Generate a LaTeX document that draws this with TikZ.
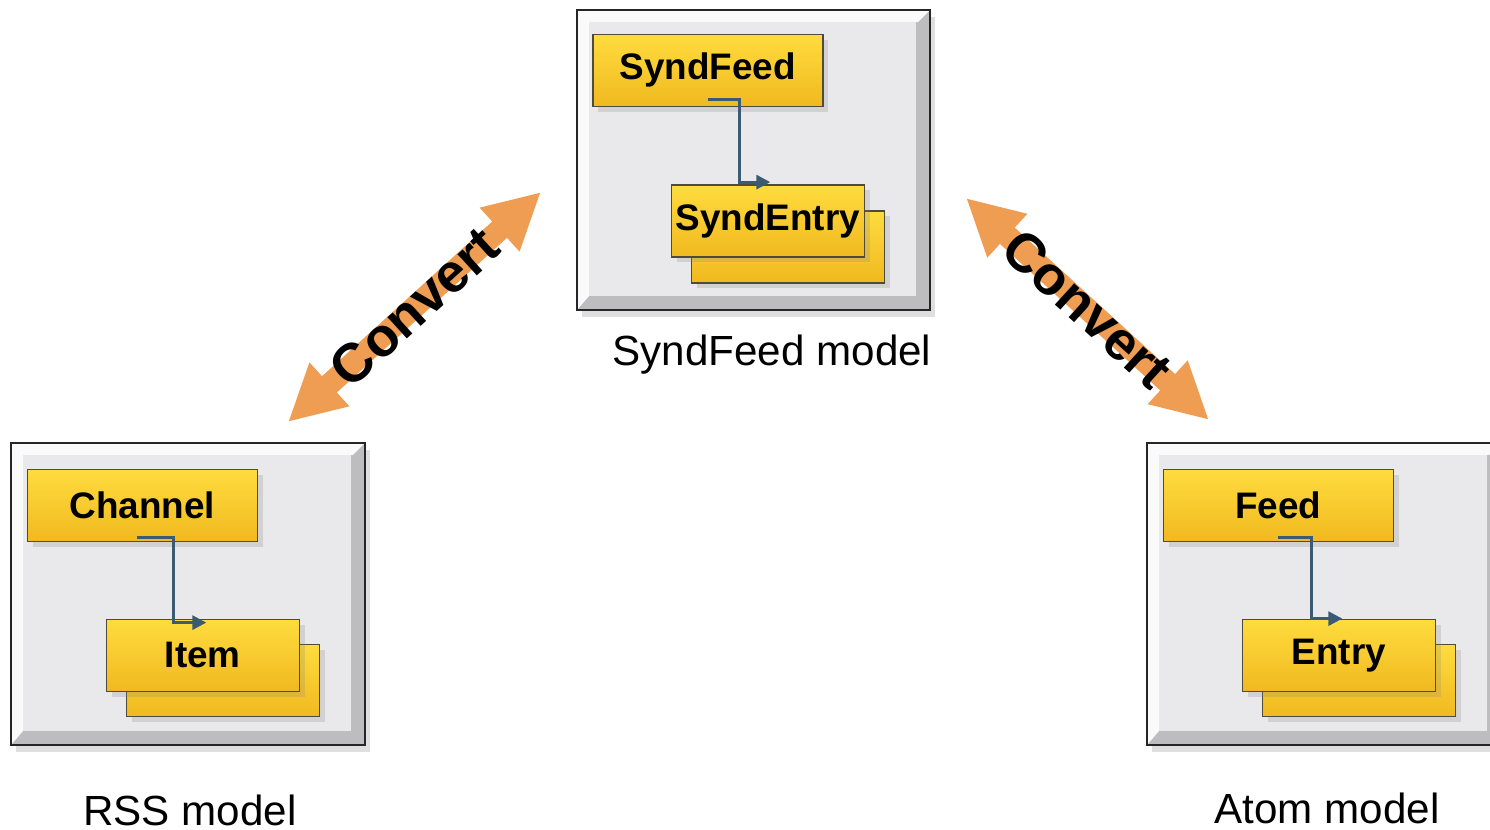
\documentclass[tikz,border=0pt]{standalone}
\usepackage{fontspec}
\setmainfont{Liberation Sans}
\usetikzlibrary{arrows.meta,shadows}
\definecolor{panelgrey}{HTML}{E9E9EB}
\definecolor{panelshade}{HTML}{BDBDC0}
\definecolor{goldtop}{HTML}{FFDC3E}
\definecolor{goldmid}{HTML}{FCCA2A}
\definecolor{goldbot}{HTML}{F0B920}
\definecolor{linkblue}{HTML}{3B5B72}
\definecolor{convorange}{HTML}{EE9D52}

\tikzset{
	panel/.style={draw=black!85,line width=0.8pt,fill=panelshade,minimum width=7.08cm,minimum height=6.04cm,inner sep=0pt,
		drop shadow={opacity=0.25,shadow xshift=3pt,shadow yshift=-4pt},
		path picture={
			\fill[white!96!gray] (path picture bounding box.north west) -- (path picture bounding box.north east) -- ([shift={(-12,12)}]path picture bounding box.north east) -- ([shift={(12,12)}]path picture bounding box.north west) -- ([shift={(12,-14)}]path picture bounding box.south west) -- (path picture bounding box.south west) -- cycle;
			\fill[panelgrey] ([shift={(12,12)}]path picture bounding box.north west) rectangle ([shift={(-14,-14)}]path picture bounding box.south east);}},
	goldbox/.style={draw=black!80!yellow,line width=0.8pt,top color=goldtop,middle color=goldmid,bottom color=goldbot,inner sep=0pt,minimum height=1.44cm,
		drop shadow={opacity=0.22,shadow xshift=3pt,shadow yshift=-3pt},font=\bfseries\fontsize{21}{24}\selectfont},
	parentbox/.style={goldbox,minimum width=4.6cm},
	childbox/.style={goldbox,minimum width=3.86cm},
	link/.style={linkblue,line width=1.7pt,-{Triangle[length=8pt,width=8pt]}},
	convert/.style={convorange,line width=0.44cm,{Triangle[length=1.12cm,width=1.1cm]}-{Triangle[length=1.12cm,width=1.1cm]}},
	convtext/.style={text=black,inner sep=0pt,font=\bfseries\fontsize{31}{34}\selectfont},
	modellabel/.style={inner sep=0pt,font=\fontsize{24}{28}\selectfont}
}

\begin{document}
\begin{tikzpicture}[x=0.02cm,y=-0.02cm]
	\useasboundingbox (0,0) rectangle (1490,830);
	%panels
		\node[panel,minimum width=7.06cm,minimum height=6.0cm] (syndpanel) at (753.5,160) {};
		\node[panel] (rsspanel) at (188,594) {};
		\node[panel] (atompanel) at (1324,594) {};
	%syndfeed model
		\node[parentbox] (syndfeed) at ([shift={(131.5,61)}]syndpanel.north west) {SyndFeed};
		\node[childbox] (syndback) at ([shift={(211.5,237.5)}]syndpanel.north west) {};
		\node[childbox] (syndentry) at ([shift={(191.5,211.5)}]syndpanel.north west) {SyndEntry};
		\draw[link] ([yshift=0.16cm]syndfeed.south) -- ++(32,0) |- ([xshift=0.05cm,yshift=0.04cm]syndentry.north);
	%rss model
		\node[parentbox] (channel) at ([shift={(132,63)}]rsspanel.north west) {Channel};
		\node[childbox] (itemback) at ([shift={(212.5,238)}]rsspanel.north west) {};
		\node[childbox] (item) at ([shift={(192.5,213)}]rsspanel.north west) {Item};
		\draw[link] ([xshift=-0.1cm,yshift=0.1cm]channel.south) -- ++(36,0) |- ([xshift=0.07cm,yshift=-0.08cm]item.north);
	%atom model
		\node[parentbox] (feed) at ([shift={(132,63)}]atompanel.north west) {Feed};
		\node[childbox] (entryback) at ([shift={(212.5,238)}]atompanel.north west) {};
		\node[childbox] (entry) at ([shift={(192.5,213)}]atompanel.north west) {Entry};
		\draw[link] ([yshift=0.1cm]feed.south) -- ++(33,0) |- ([xshift=0.07cm]entry.north);
	%convert arrows
		\coordinate (rssend) at (288,422);
		\coordinate (syndleft) at (541,192);
		\coordinate (syndright) at (966,198);
		\coordinate (atomend) at (1209,420);
		\draw[convert] (rssend) -- node[convtext,sloped] (convleft) {Convert} (syndleft);
		\draw[convert] (syndright) -- node[convtext,sloped] (convright) {Convert} (atomend);
	%labels
		\node[modellabel] (syndlabel) at (772,355) {SyndFeed model};
		\node[modellabel] (rsslabel) at (190,810) {RSS model};
		\node[modellabel] (atomlabel) at (1327,808) {Atom model};
\end{tikzpicture}
\end{document}
